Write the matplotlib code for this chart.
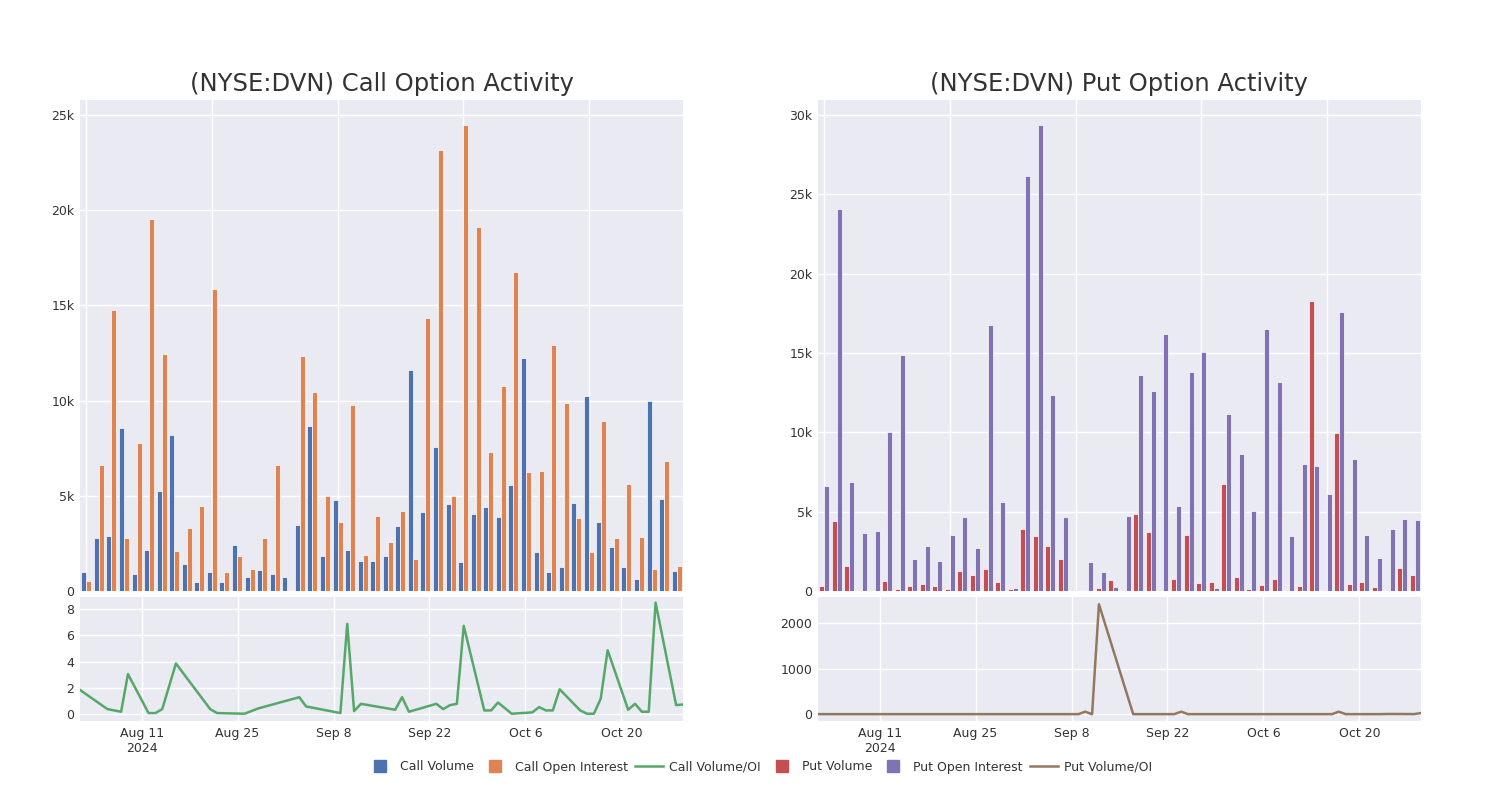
import numpy as np
import pandas as pd
import matplotlib
matplotlib.use('Agg')
import matplotlib.pyplot as plt
from matplotlib.lines import Line2D

# trading days shown (48 sessions)
dates = pd.to_datetime([
    '2024-08-02', '2024-08-06', '2024-08-08', '2024-08-09', '2024-08-12', '2024-08-13',
    '2024-08-14', '2024-08-16', '2024-08-21', '2024-08-22', '2024-08-26', '2024-08-28',
    '2024-09-03', '2024-09-04', '2024-09-06', '2024-09-09', '2024-09-10', '2024-09-11',
    '2024-09-12', '2024-09-17', '2024-09-18', '2024-09-19', '2024-09-23', '2024-09-24',
    '2024-09-25', '2024-09-26', '2024-09-27', '2024-09-30', '2024-10-01', '2024-10-02',
    '2024-10-04', '2024-10-07', '2024-10-08', '2024-10-09', '2024-10-10', '2024-10-11',
    '2024-10-14', '2024-10-15', '2024-10-16', '2024-10-17', '2024-10-18', '2024-10-21',
    '2024-10-22', '2024-10-23', '2024-10-24', '2024-10-25', '2024-10-28', '2024-10-29',
])

call_volume = [1000, 2790, 2910, 8580, 910, 2140, 5240, 8180, 1420, 490,
               1020, 460, 2440, 720, 1100, 890, 720, 3450, 8670, 1840,
               4770, 2140, 1560, 1560, 1840, 3430, 11600, 4170, 7570, 4550,
               1520, 4060, 4430, 3890, 5540, 12250, 2030, 1000, 1260, 4630,
               10250, 3630, 2300, 1280, 630, 9990, 4820, 1050]
call_oi = [530, 6600, 14730, 2790, 7760, 19520, 12420, 2080, 3330, 4480,
           15870, 980, 1840, 1160, 2790, 6600, 70, 12330, 10460, 4990,
           3630, 9790, 1890, 3960, 2580, 4200, 1700, 14310, 23130, 4980,
           24490, 19130, 7320, 10740, 16750, 6270, 6310, 12930, 9860, 3820,
           2070, 8930, 2800, 5640, 2840, 1160, 6830, 1330]
call_ratio = [1.85, 0.4, 0.2, 3.05, 0.1, 0.1, 0.4, 3.85, 0.4, 0.1,
              0.05, 0.45, 1.3, 0.6, 0.4, 0.1, 6.85, 0.25, 0.8, 0.35,
              1.3, 0.2, 0.8, 0.4, 0.7, 0.8, 6.7, 0.3, 0.3, 0.9,
              0.05, 0.15, 0.55, 0.3, 0.3, 1.9, 0.3, 0.05, 0.05, 1.2,
              4.85, 0.35, 0.8, 0.2, 0.2, 8.45, 0.7, 0.75]

put_volume = [320, 4420, 1580, 80, 80, 650, 130, 340, 460, 290,
              150, 1260, 1010, 1410, 570, 130, 3890, 3490, 2840, 1990,
              40, 20, 210, 670, 60, 4830, 3720, 40, 740, 3510,
              480, 550, 6730, 880, 150, 360, 740, 60, 320, 18310,
              60, 9960, 420, 550, 250, 60, 1430, 990]
put_oi = [6630, 24050, 6860, 3660, 3760, 10030, 14870, 2020, 2820, 1890,
          3550, 4670, 2690, 16790, 5630, 190, 26150, 29390, 12340, 4670,
          40, 1810, 1200, 230, 4730, 13600, 12590, 16170, 5360, 13810,
          15070, 190, 11180, 8660, 5070, 16540, 13200, 3470, 7990, 7860,
          6140, 17570, 8300, 3550, 2060, 3910, 4520, 4480]
put_ratio = [1, 1, 1, 1, 1, 1, 1, 1, 1, 1,
             1, 1, 1, 1, 1, 1, 55, 0, 2420, 1,
             1, 1, 1, 55, 1, 1, 1, 1, 1, 1,
             1, 1, 1, 1, 1, 1, 1, 1, 1, 55,
             1, 1, 1, 1, 5, 5, 2, 25]

date_ticks = pd.to_datetime(['2024-08-11', '2024-08-25', '2024-09-08',
                             '2024-09-22', '2024-10-06', '2024-10-20'])
date_labels = ['Aug 11\n2024', 'Aug 25', 'Sep 8', 'Sep 22', 'Oct 6', 'Oct 20']

BG = '#EAEAF2'
TXT = '#333333'
colors = {'cv': '#4C72B0', 'coi': '#DD8452', 'cr': '#55A868',
          'pv': '#C44E52', 'poi': '#8172B3', 'pr': '#937860'}

fig = plt.figure(figsize=(15, 8), dpi=100)


def style(ax):
    ax.set_facecolor(BG)
    for s in ax.spines.values():
        s.set_visible(False)
    ax.grid(True, color='white', linewidth=1.0)
    ax.set_axisbelow(True)
    ax.tick_params(length=0, labelsize=9, colors=TXT, pad=4)


def panel(left, title, vol, oi, ratio, c_vol, c_oi, c_ratio, bar_ticks, bar_labels, bar_max, r_lim, r_ticks):
    w = 0.402
    ax_b = fig.add_axes([left, 0.26125, w, 0.61375])
    ax_l = fig.add_axes([left, 0.09875, w, 0.155])
    style(ax_b)
    style(ax_l)

    x = np.arange(len(vol))
    ax_b.bar(x - 0.2, vol, width=0.4, color=c_vol, edgecolor='white', linewidth=0.5)
    ax_b.bar(x + 0.2, oi, width=0.4, color=c_oi, edgecolor='white', linewidth=0.5)
    ax_b.set_xlim(-0.5, len(vol) - 0.5)
    ax_b.set_xticks(np.arange(0, len(vol), 10))
    ax_b.set_xticklabels([])
    ax_b.set_ylim(0, bar_max)
    ax_b.set_yticks(bar_ticks)
    ax_b.set_yticklabels(bar_labels)

    ax_l.plot(dates, ratio, color=c_ratio, linewidth=1.8)
    ax_l.set_xlim(dates[0], dates[-1])
    ax_l.set_xticks(date_ticks)
    ax_l.set_xticklabels(date_labels)
    ax_l.set_ylim(*r_lim)
    ax_l.set_yticks(r_ticks)

    fig.text(left + w / 2, 1 - 84 / 800, title, ha='center', va='center',
             fontsize=17.5, color=TXT)


panel(80 / 1500, '(NYSE:DVN) Call Option Activity', call_volume, call_oi, call_ratio,
      colors['cv'], colors['coi'], colors['cr'],
      [0, 5000, 10000, 15000, 20000, 25000], ['0', '5k', '10k', '15k', '20k', '25k'],
      25780, (-0.5, 8.88), [0, 2, 4, 6, 8])

panel(818 / 1500, '(NYSE:DVN) Put Option Activity', put_volume, put_oi, put_ratio,
      colors['pv'], colors['poi'], colors['pr'],
      [0, 5000, 10000, 15000, 20000, 25000, 30000], ['0', '5k', '10k', '15k', '20k', '25k', '30k'],
      30950, (-150, 2580), [0, 1000, 2000])

handles = [
    Line2D([], [], marker='s', linestyle='none', markersize=9, color=colors['cv']),
    Line2D([], [], marker='s', linestyle='none', markersize=9, color=colors['coi']),
    Line2D([], [], color=colors['cr'], linewidth=1.8),
    Line2D([], [], marker='s', linestyle='none', markersize=9, color=colors['pv']),
    Line2D([], [], marker='s', linestyle='none', markersize=9, color=colors['poi']),
    Line2D([], [], color=colors['pr'], linewidth=1.8),
]
labels = ['Call Volume', 'Call Open Interest', 'Call Volume/OI',
          'Put Volume', 'Put Open Interest', 'Put Volume/OI']
fig.legend(handles, labels, loc='center', bbox_to_anchor=(0.506, 1 - 767 / 800),
           ncol=6, frameon=False, fontsize=9, labelcolor=TXT,
           handlelength=2.2, columnspacing=0.6, handletextpad=0.5)

fig.savefig('out.png', dpi=100)
